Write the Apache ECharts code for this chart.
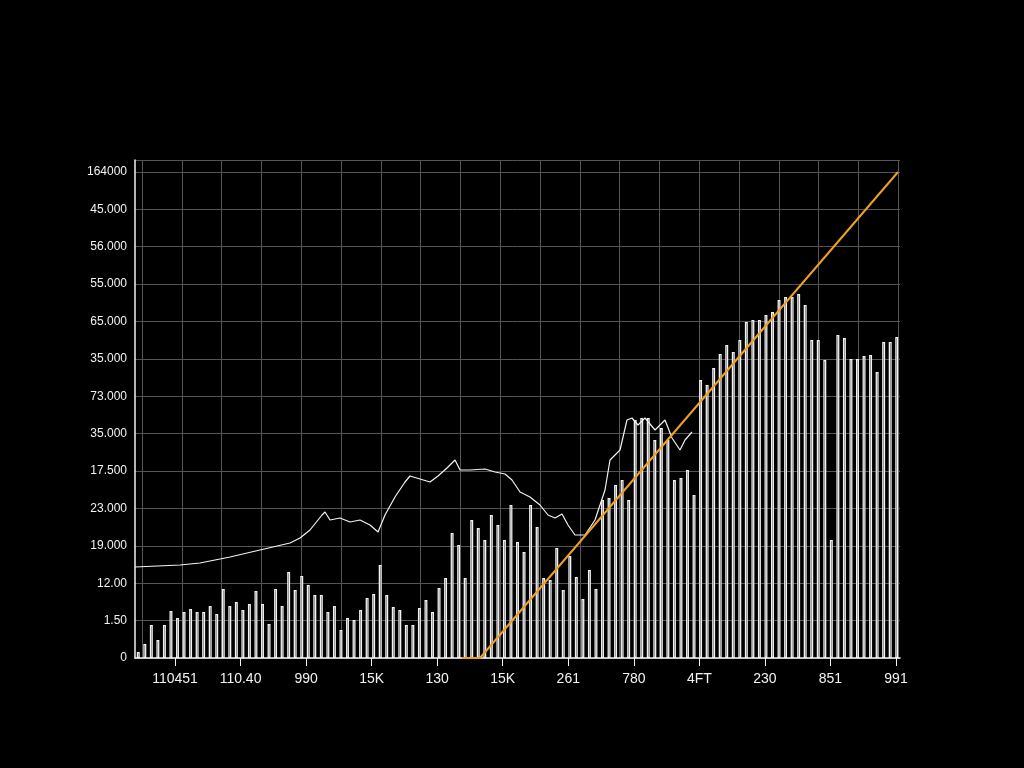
<!DOCTYPE html>
<html><head><meta charset="utf-8">
<script src="https://cdn.jsdelivr.net/npm/echarts@6/dist/echarts.min.js"></script>
<style>html,body{margin:0;background:#000}#c{width:1024px;height:768px}</style>
</head><body><div id="c"></div>
<script>
// y 轴标签（自下而上），刻度间距 37.4
const Y_LABELS = ["0", "1.50", "12.00", "19.000", "23.000", "17.500", "35.000", "73.000",
  "35.000", "65.000", "55.000", "56.000", "45.000", "164000"];
const X_LABELS = ["110451", "110.40", "990", "15K", "130", "15K", "261", "780", "4FT", "230", "851", "991"];

// 柱高（y 轴单位）
const BARS = [6, 14, 33, 18, 33, 47, 40, 46, 49, 46, 46, 52, 44, 69, 52, 56, 48, 54, 67, 54, 34, 69, 52, 86,
  68, 82, 73, 63, 63, 46, 52, 28, 40, 38, 48, 60, 64, 93, 63, 51, 48, 33, 33, 50, 58, 46, 70, 80, 125, 113,
  80, 138, 130, 118, 143, 133, 118, 153, 116, 106, 153, 131, 80, 78, 110, 68, 102, 81, 59, 88, 69, 158, 160,
  173, 178, 158, 238, 240, 240, 218, 230, 218, 178, 180, 188, 163, 278, 273, 290, 304, 313, 306, 318, 336,
  338, 338, 343, 346, 358, 361, 361, 364, 353, 318, 318, 298, 118, 323, 320, 299, 299, 302, 303, 286, 316,
  316, 321];

// 白色折线 [x, 高度]
const LINE = [[135, 91], [180, 93], [200, 95], [230, 101], [260, 108], [290, 115], [300, 120], [310, 128],
  [322, 143], [325, 146], [330, 138], [340, 140], [350, 136], [360, 138], [370, 133], [378, 126], [385, 143],
  [395, 161], [405, 176], [410, 182], [420, 179], [430, 176], [438, 182], [447, 190], [455, 198], [460, 188],
  [470, 188], [485, 189], [495, 186], [505, 184], [512, 178], [520, 166], [530, 161], [540, 153], [548, 143],
  [555, 140], [562, 144], [568, 133], [575, 123], [585, 123], [595, 138], [600, 153], [605, 168], [610, 198],
  [620, 208], [627, 238], [632, 240], [638, 233], [645, 240], [655, 228], [665, 238], [672, 220], [680, 208],
  [685, 218], [692, 226]];

// 橙色趋势线
const TREND = [[462, 0], [480, 0], [898, 486]];

const chart = echarts.init(document.getElementById("c"));
const white = "#f2f2f2";
chart.setOption({
  backgroundColor: "#000",
  animation: false,
  grid: [
    { left: 135, right: 124, top: 160, bottom: 110 },
    { left: 175, right: 128, top: 160, bottom: 110 },
    { left: 142, right: 126, top: 160, bottom: 110 },
  ],
  xAxis: [
    { type: "category", gridIndex: 0, data: BARS.map((_, i) => i), axisLabel: { show: false },
      axisTick: { show: false }, axisLine: { lineStyle: { color: white, width: 1.5 } } },
    { type: "value", gridIndex: 0, min: 135, max: 900, show: false },
    { type: "category", gridIndex: 1, data: X_LABELS, boundaryGap: false,
      axisLine: { show: false }, axisTick: { lineStyle: { color: white }, length: 8 },
      axisLabel: { color: white, fontSize: 14, margin: 14, fontFamily: "Liberation Sans" } },
    { type: "value", gridIndex: 2, min: 0, max: 756, interval: 39.8, axisLine: { show: false },
      axisTick: { show: false }, axisLabel: { show: false },
      splitLine: { show: true, lineStyle: { color: "#555", width: 1 } } },
  ],
  yAxis: [
    { type: "value", gridIndex: 0, min: 0, max: 498, interval: 37.4,
      axisLine: { show: true, lineStyle: { color: white, width: 1.5 } }, axisTick: { show: false },
      axisLabel: { color: white, fontSize: 12, fontFamily: "Liberation Sans", showMaxLabel: false,
        formatter: (v) => Y_LABELS[Math.round(v / 37.4)] ?? "" },
      splitLine: { lineStyle: { color: "#555", width: 1 } } },
    { type: "value", gridIndex: 1, min: 0, max: 498, show: false },
    { type: "value", gridIndex: 2, min: 0, max: 498, show: false },
  ],
  series: [
    { type: "bar", xAxisIndex: 0, yAxisIndex: 0, data: BARS, barWidth: "45%",
      itemStyle: { color: "#000", borderColor: white, borderWidth: 1.3 } },
    { type: "line", xAxisIndex: 1, yAxisIndex: 0, data: LINE, symbol: "none",
      lineStyle: { color: white, width: 1.2 } },
    { type: "line", xAxisIndex: 1, yAxisIndex: 0, data: TREND, symbol: "none",
      lineStyle: { color: "#f0a020", width: 2 } },
  ],
});
</script></body></html>
